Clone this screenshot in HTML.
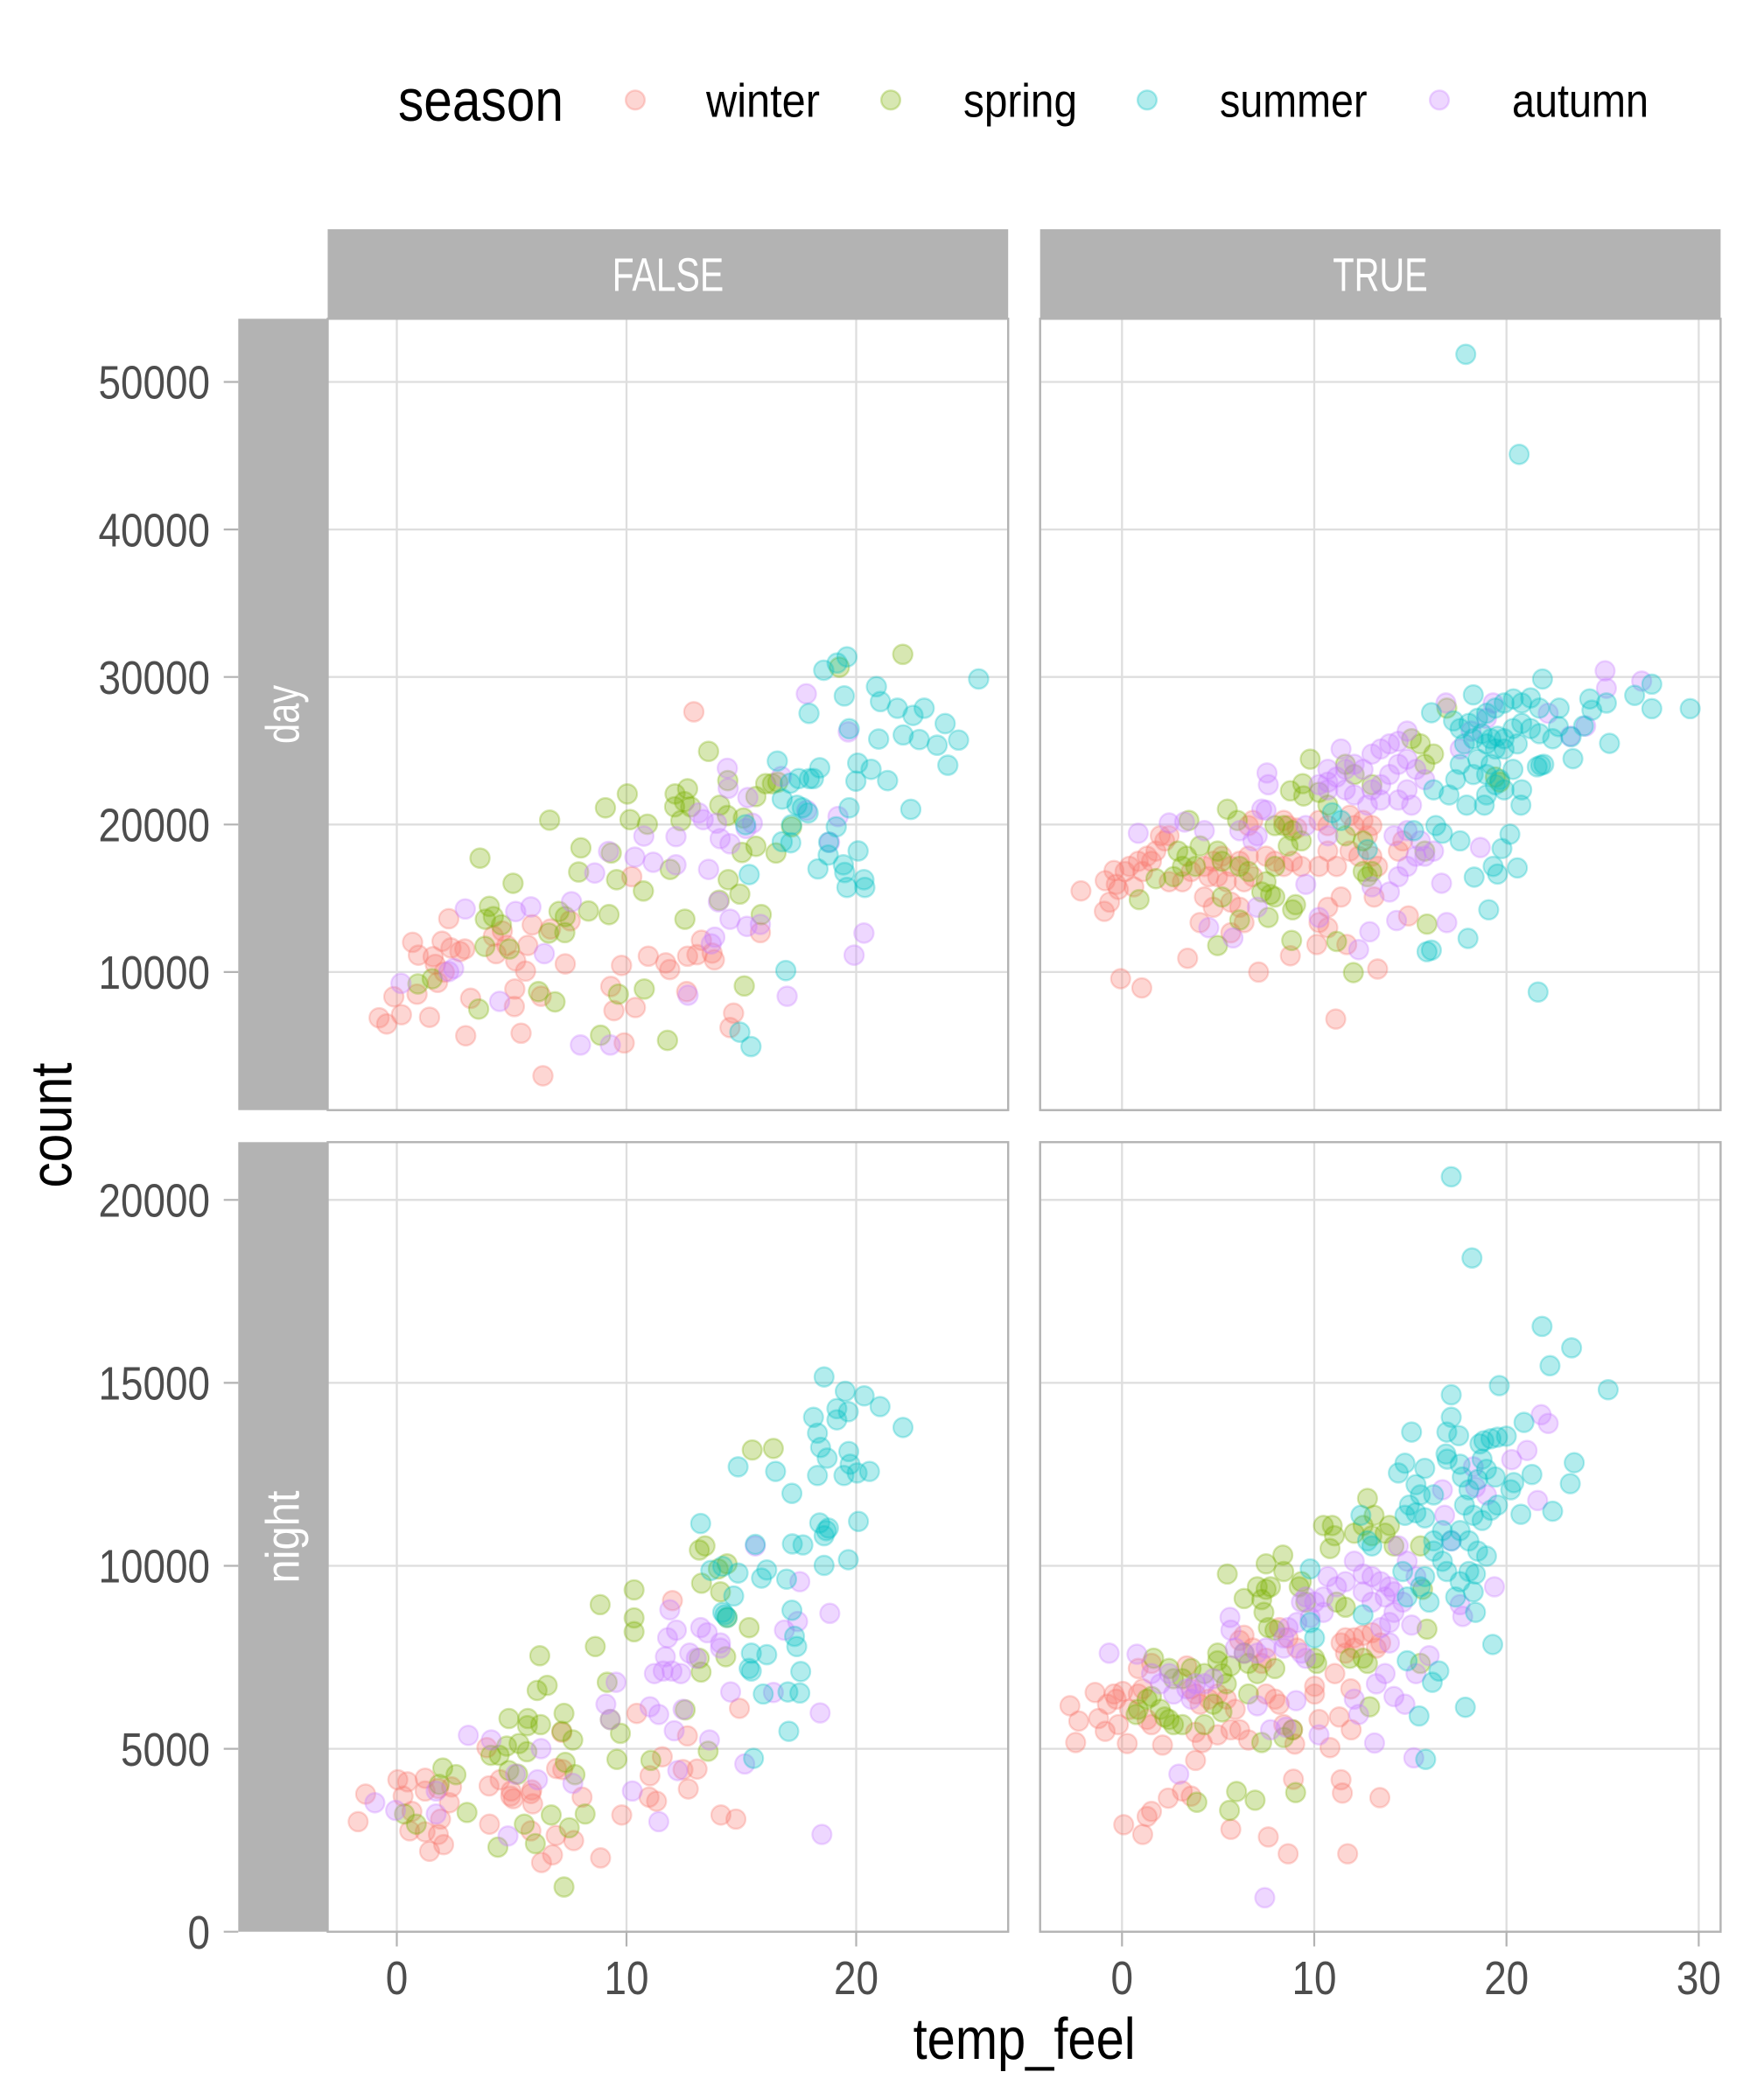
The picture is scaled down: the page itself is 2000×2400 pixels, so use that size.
<!DOCTYPE html>
<html><head><meta charset="utf-8"><style>
html,body{margin:0;padding:0;background:#fff;}
svg{display:block;}
text{font-family:"Liberation Sans Narrow","Liberation Sans",Arial,sans-serif;}
</style></head><body>
<svg width="2000" height="2400" viewBox="0 0 2000 2400" xmlns="http://www.w3.org/2000/svg">
<defs>
<ellipse id="w" cx="0" cy="0" rx="21.8" ry="18.9" fill="#F8766D" fill-opacity=".3" stroke="#F8766D" stroke-opacity=".3" stroke-width="4.3"/>
<ellipse id="g" cx="0" cy="0" rx="21.8" ry="18.9" fill="#7CAE00" fill-opacity=".3" stroke="#7CAE00" stroke-opacity=".3" stroke-width="4.3"/>
<ellipse id="s" cx="0" cy="0" rx="21.8" ry="18.9" fill="#00BFC4" fill-opacity=".3" stroke="#00BFC4" stroke-opacity=".3" stroke-width="4.3"/>
<ellipse id="a" cx="0" cy="0" rx="21.8" ry="18.9" fill="#C77CFF" fill-opacity=".3" stroke="#C77CFF" stroke-opacity=".3" stroke-width="4.3"/>
</defs>
<rect width="2000" height="2400" fill="#fff"/>

<!-- Legend -->
<text x="455" y="138" font-size="68" fill="#000" textLength="189" lengthAdjust="spacingAndGlyphs">season</text>
<g fill-opacity=".3" stroke-opacity=".3" stroke-width="2.4">
<circle cx="726" cy="114.3" r="10.9" fill="#F8766D" stroke="#F8766D"/>
<circle cx="1018" cy="114.3" r="10.9" fill="#7CAE00" stroke="#7CAE00"/>
<circle cx="1311" cy="114.3" r="10.9" fill="#00BFC4" stroke="#00BFC4"/>
<circle cx="1645" cy="114.3" r="10.9" fill="#C77CFF" stroke="#C77CFF"/>
</g>
<g font-size="53.5" fill="#000">
<text x="807" y="133.3" textLength="130" lengthAdjust="spacingAndGlyphs">winter</text>
<text x="1101" y="133.3" textLength="130" lengthAdjust="spacingAndGlyphs">spring</text>
<text x="1394" y="133.3" textLength="168.5" lengthAdjust="spacingAndGlyphs">summer</text>
<text x="1728" y="133.3" textLength="156" lengthAdjust="spacingAndGlyphs">autumn</text>
</g>

<!-- Strips -->
<g fill="#b3b3b3">
<rect x="374.5" y="262" width="777.7" height="102.3"/>
<rect x="1188.7" y="262" width="777.7" height="102.3"/>
<rect x="272.3" y="364.3" width="102.2" height="904.4"/>
<rect x="272.3" y="1305.3" width="102.2" height="902.4"/>
</g>
<g font-size="53.5" fill="#fff" text-anchor="middle">
<text x="763.4" y="332.5" textLength="127.5" lengthAdjust="spacingAndGlyphs">FALSE</text>
<text x="1577.5" y="332.5" textLength="108.5" lengthAdjust="spacingAndGlyphs">TRUE</text>
<text transform="translate(341.5 816.5) rotate(-90)" textLength="67" lengthAdjust="spacingAndGlyphs">day</text>
<text transform="translate(341.5 1756.5) rotate(-90)" textLength="106" lengthAdjust="spacingAndGlyphs">night</text>
</g>

<!-- Panel backgrounds -->
<g fill="#fff">
<rect x="374.5" y="364.3" width="777.7" height="904.4"/>
<rect x="1188.7" y="364.3" width="777.7" height="904.4"/>
<rect x="374.5" y="1305.3" width="777.7" height="902.4"/>
<rect x="1188.7" y="1305.3" width="777.7" height="902.4"/>
</g>

<!-- Grid lines -->
<g stroke="#dedede" stroke-width="2.3">
<path d="M374.5 436.5H1152.2M374.5 605.1H1152.2M374.5 773.7H1152.2M374.5 942.3H1152.2M374.5 1110.9H1152.2"/>
<path d="M1188.7 436.5H1966.4M1188.7 605.1H1966.4M1188.7 773.7H1966.4M1188.7 942.3H1966.4M1188.7 1110.9H1966.4"/>
<path d="M374.5 1371.3H1152.2M374.5 1580.4H1152.2M374.5 1789.5H1152.2M374.5 1998.6H1152.2"/>
<path d="M1188.7 1371.3H1966.4M1188.7 1580.4H1966.4M1188.7 1789.5H1966.4M1188.7 1998.6H1966.4"/>
<path d="M453.5 364.3V1268.7M716 364.3V1268.7M978.5 364.3V1268.7"/>
<path d="M1282.3 364.3V1268.7M1502 364.3V1268.7M1721.7 364.3V1268.7M1941.4 364.3V1268.7"/>
<path d="M453.5 1305.3V2207.7M716 1305.3V2207.7M978.5 1305.3V2207.7"/>
<path d="M1282.3 1305.3V2207.7M1502 1305.3V2207.7M1721.7 1305.3V2207.7M1941.4 1305.3V2207.7"/>
</g>

<!-- TL panel points -->
<g transform="translate(370 360) scale(0.5102 0.5867)">
<use href="#w" x="829" y="773"/><use href="#w" x="690" y="1094"/><use href="#w" x="280" y="1176"/><use href="#w" x="467" y="1188"/><use href="#w" x="552" y="1180"/><use href="#w" x="400" y="1200"/><use href="#w" x="380" y="1210"/><use href="#w" x="508" y="1196"/><use href="#w" x="199" y="1222"/><use href="#w" x="265" y="1220"/><use href="#w" x="212" y="1247"/><use href="#w" x="245" y="1250"/><use href="#w" x="285" y="1233"/><use href="#w" x="316" y="1235"/><use href="#w" x="305" y="1240"/><use href="#w" x="386" y="1244"/><use href="#w" x="410" y="1228"/><use href="#w" x="457" y="1228"/><use href="#w" x="430" y="1258"/><use href="#w" x="452" y="1278"/><use href="#w" x="541" y="1264"/><use href="#w" x="667" y="1267"/><use href="#w" x="727" y="1249"/><use href="#w" x="766" y="1262"/><use href="#w" x="775" y="1275"/><use href="#w" x="815" y="1249"/><use href="#w" x="846" y="1218"/><use href="#w" x="836" y="1246"/><use href="#w" x="870" y="1243"/><use href="#w" x="875" y="1256"/><use href="#w" x="978" y="1203"/><use href="#w" x="250" y="1265"/><use href="#w" x="270" y="1280"/><use href="#w" x="255" y="1300"/><use href="#w" x="157" y="1328"/><use href="#w" x="209" y="1323"/><use href="#w" x="329" y="1331"/><use href="#w" x="428" y="1313"/><use href="#w" x="427" y="1347"/><use href="#w" x="487" y="1327"/><use href="#w" x="124" y="1369"/><use href="#w" x="141" y="1381"/><use href="#w" x="174" y="1363"/><use href="#w" x="237" y="1368"/><use href="#w" x="318" y="1404"/><use href="#w" x="442" y="1399"/><use href="#w" x="643" y="1308"/><use href="#w" x="650" y="1355"/><use href="#w" x="698" y="1349"/><use href="#w" x="813" y="1318"/><use href="#w" x="918" y="1360"/><use href="#w" x="910" y="1388"/><use href="#w" x="673" y="1418"/><use href="#w" x="491" y="1482"/>
<use href="#g" x="1297" y="661"/><use href="#g" x="1155" y="686"/><use href="#g" x="862" y="850"/><use href="#g" x="905" y="907"/><use href="#g" x="990" y="913"/><use href="#g" x="1005" y="913"/><use href="#g" x="1017" y="910"/><use href="#g" x="680" y="933"/><use href="#g" x="631" y="960"/><use href="#g" x="787" y="933"/><use href="#g" x="815" y="923"/><use href="#g" x="808" y="948"/><use href="#g" x="786" y="958"/><use href="#g" x="822" y="958"/><use href="#g" x="506" y="984"/><use href="#g" x="686" y="983"/><use href="#g" x="725" y="992"/><use href="#g" x="800" y="985"/><use href="#g" x="887" y="955"/><use href="#g" x="904" y="975"/><use href="#g" x="940" y="980"/><use href="#g" x="968" y="938"/><use href="#g" x="1048" y="997"/><use href="#g" x="576" y="1038"/><use href="#g" x="644" y="1048"/><use href="#g" x="350" y="1058"/><use href="#g" x="571" y="1085"/><use href="#g" x="656" y="1100"/><use href="#g" x="716" y="1122"/><use href="#g" x="776" y="1080"/><use href="#g" x="937" y="1047"/><use href="#g" x="968" y="1035"/><use href="#g" x="1013" y="1048"/><use href="#g" x="906" y="1100"/><use href="#g" x="932" y="1128"/><use href="#g" x="886" y="1140"/><use href="#g" x="424" y="1107"/><use href="#g" x="371" y="1152"/><use href="#g" x="362" y="1177"/><use href="#g" x="380" y="1172"/><use href="#g" x="398" y="1188"/><use href="#g" x="527" y="1162"/><use href="#g" x="541" y="1172"/><use href="#g" x="593" y="1161"/><use href="#g" x="639" y="1168"/><use href="#g" x="504" y="1204"/><use href="#g" x="540" y="1203"/><use href="#g" x="809" y="1177"/><use href="#g" x="980" y="1168"/><use href="#g" x="361" y="1230"/><use href="#g" x="416" y="1235"/><use href="#g" x="211" y="1303"/><use href="#g" x="243" y="1293"/><use href="#g" x="481" y="1318"/><use href="#g" x="518" y="1338"/><use href="#g" x="347" y="1352"/><use href="#g" x="660" y="1323"/><use href="#g" x="718" y="1313"/><use href="#g" x="942" y="1307"/><use href="#g" x="620" y="1403"/><use href="#g" x="770" y="1413"/>
<use href="#a" x="1081" y="738"/><use href="#a" x="1175" y="812"/><use href="#a" x="904" y="883"/><use href="#a" x="906" y="922"/><use href="#a" x="950" y="940"/><use href="#a" x="1025" y="899"/><use href="#a" x="840" y="970"/><use href="#a" x="850" y="983"/><use href="#a" x="880" y="990"/><use href="#a" x="888" y="1020"/><use href="#a" x="910" y="1030"/><use href="#a" x="946" y="1000"/><use href="#a" x="960" y="990"/><use href="#a" x="717" y="1015"/><use href="#a" x="789" y="1016"/><use href="#a" x="862" y="1080"/><use href="#a" x="638" y="1045"/><use href="#a" x="697" y="1056"/><use href="#a" x="738" y="1066"/><use href="#a" x="789" y="1071"/><use href="#a" x="607" y="1087"/><use href="#a" x="1082" y="965"/><use href="#a" x="1152" y="977"/><use href="#a" x="1133" y="1027"/><use href="#a" x="317" y="1157"/><use href="#a" x="430" y="1162"/><use href="#a" x="464" y="1153"/><use href="#a" x="555" y="1143"/><use href="#a" x="494" y="1244"/><use href="#a" x="291" y="1273"/><use href="#a" x="280" y="1279"/><use href="#a" x="173" y="1302"/><use href="#a" x="394" y="1337"/><use href="#a" x="876" y="1212"/><use href="#a" x="868" y="1225"/><use href="#a" x="910" y="1177"/><use href="#a" x="948" y="1191"/><use href="#a" x="978" y="1187"/><use href="#a" x="1210" y="1204"/><use href="#a" x="1188" y="1247"/><use href="#a" x="816" y="1325"/><use href="#a" x="1038" y="1327"/><use href="#a" x="575" y="1422"/><use href="#a" x="642" y="1422"/><use href="#a" x="884" y="1143"/>
<use href="#s" x="1172" y="666"/><use href="#s" x="1150" y="678"/><use href="#s" x="1120" y="692"/><use href="#s" x="1166" y="742"/><use href="#s" x="1087" y="776"/><use href="#s" x="1177" y="806"/><use href="#s" x="1238" y="724"/><use href="#s" x="1247" y="753"/><use href="#s" x="1285" y="766"/><use href="#s" x="1320" y="780"/><use href="#s" x="1345" y="766"/><use href="#s" x="1392" y="796"/><use href="#s" x="1422" y="828"/><use href="#s" x="1374" y="838"/><use href="#s" x="1398" y="877"/><use href="#s" x="1467" y="709"/><use href="#s" x="1243" y="826"/><use href="#s" x="1298" y="818"/><use href="#s" x="1334" y="827"/><use href="#s" x="1016" y="869"/><use href="#s" x="1196" y="873"/><use href="#s" x="1226" y="885"/><use href="#s" x="1263" y="907"/><use href="#s" x="1192" y="908"/><use href="#s" x="1111" y="882"/><use href="#s" x="1088" y="903"/><use href="#s" x="1064" y="903"/><use href="#s" x="1097" y="903"/><use href="#s" x="1045" y="912"/><use href="#s" x="1027" y="943"/><use href="#s" x="1315" y="963"/><use href="#s" x="1177" y="960"/><use href="#s" x="1148" y="997"/><use href="#s" x="1060" y="955"/><use href="#s" x="1085" y="970"/><use href="#s" x="1072" y="960"/><use href="#s" x="1048" y="993"/><use href="#s" x="1046" y="1028"/><use href="#s" x="1027" y="1026"/><use href="#s" x="1131" y="1027"/><use href="#s" x="1130" y="1052"/><use href="#s" x="1107" y="1079"/><use href="#s" x="1197" y="1044"/><use href="#s" x="1164" y="1071"/><use href="#s" x="1167" y="1086"/><use href="#s" x="1172" y="1115"/><use href="#s" x="1210" y="1100"/><use href="#s" x="1212" y="1115"/><use href="#s" x="953" y="1090"/><use href="#s" x="1035" y="1277"/><use href="#s" x="932" y="1397"/><use href="#s" x="957" y="1425"/><use href="#s" x="945" y="993"/>
</g>

<!-- TR panel points -->
<g transform="translate(1185 360) scale(0.5038 0.5835)">
<use href="#w" x="100" y="1128"/><use href="#w" x="155" y="1108"/><use href="#w" x="175" y="1088"/><use href="#w" x="180" y="1115"/><use href="#w" x="185" y="1125"/><use href="#w" x="200" y="1090"/><use href="#w" x="165" y="1150"/><use href="#w" x="153" y="1168"/><use href="#w" x="210" y="1080"/><use href="#w" x="230" y="1070"/><use href="#w" x="250" y="1060"/><use href="#w" x="270" y="1050"/><use href="#w" x="290" y="1030"/><use href="#w" x="300" y="1020"/><use href="#w" x="280" y="1020"/><use href="#w" x="260" y="1070"/><use href="#w" x="240" y="1090"/><use href="#w" x="220" y="1120"/><use href="#w" x="300" y="1110"/><use href="#w" x="330" y="1110"/><use href="#w" x="350" y="1090"/><use href="#w" x="380" y="1080"/><use href="#w" x="400" y="1070"/><use href="#w" x="420" y="1060"/><use href="#w" x="440" y="1080"/><use href="#w" x="460" y="1070"/><use href="#w" x="480" y="1060"/><use href="#w" x="480" y="1000"/><use href="#w" x="490" y="990"/><use href="#w" x="390" y="1100"/><use href="#w" x="410" y="1100"/><use href="#w" x="430" y="1110"/><use href="#w" x="470" y="1110"/><use href="#w" x="490" y="1100"/><use href="#w" x="380" y="1140"/><use href="#w" x="400" y="1160"/><use href="#w" x="440" y="1150"/><use href="#w" x="460" y="1160"/><use href="#w" x="470" y="1190"/><use href="#w" x="370" y="1190"/><use href="#w" x="440" y="1210"/><use href="#w" x="520" y="1060"/><use href="#w" x="540" y="1070"/><use href="#w" x="560" y="1080"/><use href="#w" x="580" y="1070"/><use href="#w" x="560" y="990"/><use href="#w" x="570" y="1000"/><use href="#w" x="590" y="1005"/><use href="#w" x="600" y="1080"/><use href="#w" x="640" y="1080"/><use href="#w" x="660" y="1050"/><use href="#w" x="680" y="1080"/><use href="#w" x="690" y="1140"/><use href="#w" x="710" y="1050"/><use href="#w" x="730" y="1060"/><use href="#w" x="760" y="1060"/><use href="#w" x="750" y="1020"/><use href="#w" x="760" y="1000"/><use href="#w" x="740" y="990"/><use href="#w" x="710" y="980"/><use href="#w" x="720" y="1000"/><use href="#w" x="640" y="990"/><use href="#w" x="660" y="1000"/><use href="#w" x="660" y="1160"/><use href="#w" x="640" y="1190"/><use href="#w" x="660" y="1200"/><use href="#w" x="635" y="1233"/><use href="#w" x="575" y="1255"/><use href="#w" x="703" y="1233"/><use href="#w" x="773" y="1281"/><use href="#w" x="843" y="1177"/><use href="#w" x="765" y="1140"/><use href="#w" x="773" y="1080"/><use href="#w" x="342" y="1260"/><use href="#w" x="503" y="1287"/><use href="#w" x="190" y="1300"/><use href="#w" x="238" y="1318"/><use href="#w" x="678" y="1379"/><use href="#w" x="820" y="1050"/><use href="#w" x="830" y="1030"/>
<use href="#g" x="620" y="870"/><use href="#g" x="575" y="932"/><use href="#g" x="603" y="918"/><use href="#g" x="605" y="942"/><use href="#g" x="640" y="935"/><use href="#g" x="660" y="960"/><use href="#g" x="432" y="968"/><use href="#g" x="455" y="990"/><use href="#g" x="345" y="990"/><use href="#g" x="370" y="1040"/><use href="#g" x="360" y="1080"/><use href="#g" x="320" y="1050"/><use href="#g" x="340" y="1060"/><use href="#g" x="410" y="1050"/><use href="#g" x="420" y="1070"/><use href="#g" x="540" y="1000"/><use href="#g" x="560" y="1000"/><use href="#g" x="580" y="1010"/><use href="#g" x="600" y="1030"/><use href="#g" x="570" y="1040"/><use href="#g" x="700" y="880"/><use href="#g" x="720" y="900"/><use href="#g" x="760" y="920"/><use href="#g" x="850" y="830"/><use href="#g" x="870" y="840"/><use href="#g" x="900" y="860"/><use href="#g" x="930" y="770"/><use href="#g" x="880" y="880"/><use href="#g" x="1040" y="905"/><use href="#g" x="1050" y="915"/><use href="#g" x="270" y="1104"/><use href="#g" x="310" y="1100"/><use href="#g" x="330" y="1080"/><use href="#g" x="232" y="1145"/><use href="#g" x="460" y="1080"/><use href="#g" x="480" y="1090"/><use href="#g" x="520" y="1110"/><use href="#g" x="540" y="1080"/><use href="#g" x="510" y="1130"/><use href="#g" x="420" y="1140"/><use href="#g" x="530" y="1135"/><use href="#g" x="540" y="1140"/><use href="#g" x="580" y="1165"/><use href="#g" x="587" y="1155"/><use href="#g" x="410" y="1235"/><use href="#g" x="460" y="1185"/><use href="#g" x="525" y="1180"/><use href="#g" x="578" y="1225"/><use href="#g" x="680" y="1227"/><use href="#g" x="718" y="1288"/><use href="#g" x="740" y="1090"/><use href="#g" x="760" y="1090"/><use href="#g" x="750" y="1100"/><use href="#g" x="885" y="1193"/><use href="#g" x="700" y="1020"/><use href="#g" x="740" y="1030"/><use href="#g" x="880" y="1050"/>
<use href="#a" x="1289" y="697"/><use href="#a" x="1292" y="731"/><use href="#a" x="1372" y="717"/><use href="#a" x="1245" y="805"/><use href="#a" x="1210" y="825"/><use href="#a" x="1160" y="780"/><use href="#a" x="928" y="760"/><use href="#a" x="1035" y="760"/><use href="#a" x="1020" y="790"/><use href="#a" x="985" y="815"/><use href="#a" x="960" y="850"/><use href="#a" x="690" y="850"/><use href="#a" x="840" y="815"/><use href="#a" x="820" y="835"/><use href="#a" x="800" y="840"/><use href="#a" x="780" y="850"/><use href="#a" x="760" y="860"/><use href="#a" x="720" y="880"/><use href="#a" x="740" y="890"/><use href="#a" x="700" y="890"/><use href="#a" x="680" y="905"/><use href="#a" x="660" y="915"/><use href="#a" x="640" y="920"/><use href="#a" x="660" y="930"/><use href="#a" x="700" y="930"/><use href="#a" x="720" y="940"/><use href="#a" x="760" y="930"/><use href="#a" x="780" y="920"/><use href="#a" x="800" y="900"/><use href="#a" x="820" y="880"/><use href="#a" x="840" y="870"/><use href="#a" x="860" y="890"/><use href="#a" x="880" y="910"/><use href="#a" x="840" y="930"/><use href="#a" x="820" y="950"/><use href="#a" x="850" y="960"/><use href="#a" x="780" y="950"/><use href="#a" x="750" y="960"/><use href="#a" x="522" y="897"/><use href="#a" x="525" y="920"/><use href="#a" x="660" y="890"/><use href="#a" x="510" y="968"/><use href="#a" x="520" y="970"/><use href="#a" x="230" y="1015"/><use href="#a" x="300" y="995"/><use href="#a" x="335" y="993"/><use href="#a" x="380" y="1010"/><use href="#a" x="460" y="1010"/><use href="#a" x="500" y="1020"/><use href="#a" x="490" y="1030"/><use href="#a" x="660" y="1020"/><use href="#a" x="610" y="1000"/><use href="#a" x="810" y="1020"/><use href="#a" x="840" y="1010"/><use href="#a" x="870" y="1030"/><use href="#a" x="860" y="1060"/><use href="#a" x="840" y="1080"/><use href="#a" x="820" y="1100"/><use href="#a" x="800" y="1130"/><use href="#a" x="760" y="1120"/><use href="#a" x="1006" y="1043"/><use href="#a" x="918" y="1113"/><use href="#a" x="930" y="1190"/><use href="#a" x="816" y="1186"/><use href="#a" x="755" y="1208"/><use href="#a" x="730" y="1243"/><use href="#a" x="610" y="1115"/><use href="#a" x="640" y="1180"/><use href="#a" x="390" y="1200"/><use href="#a" x="445" y="1220"/><use href="#a" x="500" y="1160"/><use href="#a" x="900" y="1050"/><use href="#a" x="880" y="1060"/>
<use href="#s" x="973" y="77"/><use href="#s" x="1094" y="273"/><use href="#s" x="1147" y="713"/><use href="#s" x="990" y="744"/><use href="#s" x="1081" y="752"/><use href="#s" x="1292" y="760"/><use href="#s" x="1254" y="752"/><use href="#s" x="1259" y="774"/><use href="#s" x="1356" y="745"/><use href="#s" x="1395" y="723"/><use href="#s" x="1395" y="771"/><use href="#s" x="1482" y="771"/><use href="#s" x="1299" y="839"/><use href="#s" x="1216" y="869"/><use href="#s" x="1143" y="882"/><use href="#s" x="1135" y="885"/><use href="#s" x="1150" y="880"/><use href="#s" x="1185" y="770"/><use href="#s" x="1183" y="806"/><use href="#s" x="1212" y="826"/><use href="#s" x="1240" y="805"/><use href="#s" x="895" y="779"/><use href="#s" x="945" y="795"/><use href="#s" x="960" y="810"/><use href="#s" x="980" y="800"/><use href="#s" x="1000" y="790"/><use href="#s" x="1020" y="780"/><use href="#s" x="1040" y="770"/><use href="#s" x="1060" y="760"/><use href="#s" x="1100" y="760"/><use href="#s" x="1120" y="750"/><use href="#s" x="1140" y="770"/><use href="#s" x="1010" y="820"/><use href="#s" x="1030" y="830"/><use href="#s" x="1045" y="825"/><use href="#s" x="1060" y="830"/><use href="#s" x="1080" y="810"/><use href="#s" x="1100" y="800"/><use href="#s" x="1120" y="810"/><use href="#s" x="1140" y="820"/><use href="#s" x="1170" y="830"/><use href="#s" x="1090" y="840"/><use href="#s" x="1060" y="850"/><use href="#s" x="1040" y="850"/><use href="#s" x="1020" y="840"/><use href="#s" x="990" y="830"/><use href="#s" x="970" y="840"/><use href="#s" x="960" y="880"/><use href="#s" x="990" y="900"/><use href="#s" x="1020" y="900"/><use href="#s" x="1050" y="910"/><use href="#s" x="1080" y="890"/><use href="#s" x="1100" y="930"/><use href="#s" x="1098" y="960"/><use href="#s" x="1060" y="930"/><use href="#s" x="1040" y="920"/><use href="#s" x="1020" y="940"/><use href="#s" x="1015" y="960"/><use href="#s" x="975" y="960"/><use href="#s" x="935" y="940"/><use href="#s" x="950" y="910"/><use href="#s" x="1030" y="880"/><use href="#s" x="1000" y="870"/><use href="#s" x="900" y="930"/><use href="#s" x="905" y="1000"/><use href="#s" x="920" y="1015"/><use href="#s" x="855" y="1010"/><use href="#s" x="960" y="1030"/><use href="#s" x="1073" y="1017"/><use href="#s" x="1055" y="1045"/><use href="#s" x="1035" y="1080"/><use href="#s" x="1090" y="1083"/><use href="#s" x="1045" y="1095"/><use href="#s" x="992" y="1101"/><use href="#s" x="1025" y="1165"/><use href="#s" x="978" y="1221"/><use href="#s" x="895" y="1244"/><use href="#s" x="885" y="1247"/><use href="#s" x="1137" y="1326"/><use href="#s" x="750" y="1047"/><use href="#s" x="690" y="990"/><use href="#s" x="670" y="975"/>
</g>

<!-- BL panel points -->
<g transform="translate(370 1300) scale(0.5038 0.5835)">
<use href="#w" x="791" y="907"/><use href="#w" x="943" y="1118"/><use href="#w" x="710" y="1128"/><use href="#w" x="825" y="1172"/><use href="#w" x="768" y="1213"/><use href="#w" x="740" y="1250"/><use href="#w" x="815" y="1238"/><use href="#w" x="847" y="1237"/><use href="#w" x="827" y="1276"/><use href="#w" x="738" y="1292"/><use href="#w" x="755" y="1300"/><use href="#w" x="370" y="1195"/><use href="#w" x="540" y="1165"/><use href="#w" x="542" y="1238"/><use href="#w" x="528" y="1236"/><use href="#w" x="95" y="1286"/><use href="#w" x="78" y="1340"/><use href="#w" x="168" y="1258"/><use href="#w" x="190" y="1262"/><use href="#w" x="230" y="1255"/><use href="#w" x="230" y="1280"/><use href="#w" x="260" y="1275"/><use href="#w" x="290" y="1272"/><use href="#w" x="180" y="1290"/><use href="#w" x="285" y="1303"/><use href="#w" x="265" y="1335"/><use href="#w" x="200" y="1320"/><use href="#w" x="195" y="1358"/><use href="#w" x="230" y="1360"/><use href="#w" x="260" y="1365"/><use href="#w" x="272" y="1385"/><use href="#w" x="240" y="1398"/><use href="#w" x="375" y="1270"/><use href="#w" x="400" y="1258"/><use href="#w" x="424" y="1290"/><use href="#w" x="425" y="1280"/><use href="#w" x="430" y="1295"/><use href="#w" x="472" y="1278"/><use href="#w" x="474" y="1305"/><use href="#w" x="470" y="1285"/><use href="#w" x="376" y="1345"/><use href="#w" x="586" y="1292"/><use href="#w" x="470" y="1358"/><use href="#w" x="527" y="1367"/><use href="#w" x="567" y="1377"/><use href="#w" x="519" y="1405"/><use href="#w" x="494" y="1420"/><use href="#w" x="628" y="1411"/><use href="#w" x="676" y="1327"/><use href="#w" x="901" y="1327"/><use href="#w" x="935" y="1335"/>
<use href="#g" x="972" y="612"/><use href="#g" x="1020" y="609"/><use href="#g" x="852" y="808"/><use href="#g" x="865" y="800"/><use href="#g" x="857" y="873"/><use href="#g" x="895" y="845"/><use href="#g" x="915" y="835"/><use href="#g" x="900" y="890"/><use href="#g" x="915" y="940"/><use href="#g" x="965" y="960"/><use href="#g" x="912" y="1017"/><use href="#g" x="856" y="1047"/><use href="#g" x="852" y="1020"/><use href="#g" x="704" y="886"/><use href="#g" x="627" y="915"/><use href="#g" x="704" y="941"/><use href="#g" x="704" y="968"/><use href="#g" x="616" y="997"/><use href="#g" x="490" y="1015"/><use href="#g" x="643" y="1067"/><use href="#g" x="507" y="1073"/><use href="#g" x="484" y="1083"/><use href="#g" x="420" y="1138"/><use href="#g" x="463" y="1138"/><use href="#g" x="462" y="1152"/><use href="#g" x="492" y="1150"/><use href="#g" x="545" y="1128"/><use href="#g" x="540" y="1163"/><use href="#g" x="565" y="1180"/><use href="#g" x="650" y="1140"/><use href="#g" x="673" y="1167"/><use href="#g" x="820" y="1121"/><use href="#g" x="415" y="1192"/><use href="#g" x="443" y="1187"/><use href="#g" x="461" y="1203"/><use href="#g" x="379" y="1210"/><use href="#g" x="398" y="1210"/><use href="#g" x="420" y="1240"/><use href="#g" x="440" y="1247"/><use href="#g" x="270" y="1235"/><use href="#g" x="300" y="1248"/><use href="#g" x="262" y="1267"/><use href="#g" x="548" y="1224"/><use href="#g" x="570" y="1248"/><use href="#g" x="665" y="1218"/><use href="#g" x="742" y="1220"/><use href="#g" x="872" y="1202"/><use href="#g" x="325" y="1322"/><use href="#g" x="516" y="1327"/><use href="#g" x="593" y="1325"/><use href="#g" x="455" y="1345"/><use href="#g" x="557" y="1352"/><use href="#g" x="480" y="1383"/><use href="#g" x="183" y="1325"/><use href="#g" x="210" y="1345"/><use href="#g" x="395" y="1390"/><use href="#g" x="545" y="1468"/>
<use href="#a" x="979" y="800"/><use href="#a" x="1080" y="870"/><use href="#a" x="1148" y="932"/><use href="#a" x="1075" y="948"/><use href="#a" x="1045" y="965"/><use href="#a" x="1126" y="1127"/><use href="#a" x="785" y="925"/><use href="#a" x="800" y="965"/><use href="#a" x="780" y="980"/><use href="#a" x="855" y="960"/><use href="#a" x="870" y="970"/><use href="#a" x="900" y="990"/><use href="#a" x="830" y="1010"/><use href="#a" x="845" y="1020"/><use href="#a" x="775" y="1017"/><use href="#a" x="750" y="1050"/><use href="#a" x="770" y="1045"/><use href="#a" x="790" y="1045"/><use href="#a" x="810" y="1050"/><use href="#a" x="663" y="1067"/><use href="#a" x="923" y="1086"/><use href="#a" x="1020" y="1087"/><use href="#a" x="640" y="1110"/><use href="#a" x="650" y="1140"/><use href="#a" x="740" y="1115"/><use href="#a" x="760" y="1130"/><use href="#a" x="795" y="1162"/><use href="#a" x="815" y="1120"/><use href="#a" x="875" y="1180"/><use href="#a" x="955" y="1227"/><use href="#a" x="328" y="1171"/><use href="#a" x="380" y="1180"/><use href="#a" x="493" y="1197"/><use href="#a" x="485" y="1258"/><use href="#a" x="435" y="1247"/><use href="#a" x="565" y="1265"/><use href="#a" x="116" y="1303"/><use href="#a" x="163" y="1318"/><use href="#a" x="255" y="1280"/><use href="#a" x="255" y="1325"/><use href="#a" x="700" y="1280"/><use href="#a" x="803" y="1240"/><use href="#a" x="760" y="1340"/><use href="#a" x="418" y="1368"/><use href="#a" x="1130" y="1365"/><use href="#a" x="900" y="1000"/>
<use href="#s" x="1135" y="469"/><use href="#s" x="1183" y="497"/><use href="#s" x="1226" y="506"/><use href="#s" x="1262" y="527"/><use href="#s" x="1164" y="531"/><use href="#s" x="1190" y="537"/><use href="#s" x="1164" y="553"/><use href="#s" x="1111" y="548"/><use href="#s" x="1120" y="579"/><use href="#s" x="1314" y="568"/><use href="#s" x="1127" y="607"/><use href="#s" x="1142" y="628"/><use href="#s" x="1191" y="615"/><use href="#s" x="1194" y="640"/><use href="#s" x="1180" y="662"/><use href="#s" x="1210" y="657"/><use href="#s" x="1238" y="654"/><use href="#s" x="1120" y="662"/><use href="#s" x="940" y="645"/><use href="#s" x="1025" y="654"/><use href="#s" x="1062" y="697"/><use href="#s" x="855" y="756"/><use href="#s" x="1125" y="755"/><use href="#s" x="1145" y="765"/><use href="#s" x="1135" y="780"/><use href="#s" x="1140" y="770"/><use href="#s" x="1213" y="752"/><use href="#s" x="979" y="797"/><use href="#s" x="1063" y="796"/><use href="#s" x="1087" y="798"/><use href="#s" x="1135" y="838"/><use href="#s" x="1190" y="827"/><use href="#s" x="878" y="848"/><use href="#s" x="905" y="840"/><use href="#s" x="940" y="853"/><use href="#s" x="1005" y="847"/><use href="#s" x="993" y="863"/><use href="#s" x="1050" y="865"/><use href="#s" x="930" y="898"/><use href="#s" x="905" y="930"/><use href="#s" x="915" y="940"/><use href="#s" x="910" y="935"/><use href="#s" x="1062" y="926"/><use href="#s" x="1073" y="997"/><use href="#s" x="1068" y="977"/><use href="#s" x="1005" y="1013"/><use href="#s" x="970" y="1010"/><use href="#s" x="965" y="1040"/><use href="#s" x="970" y="1045"/><use href="#s" x="1082" y="1046"/><use href="#s" x="997" y="1090"/><use href="#s" x="1053" y="1086"/><use href="#s" x="1080" y="1088"/><use href="#s" x="1055" y="1163"/><use href="#s" x="975" y="1216"/>
</g>

<!-- BR panel points -->
<g transform="translate(1185 1300) scale(0.5038 0.5835)">
<use href="#w" x="75" y="1113"/><use href="#w" x="95" y="1143"/><use href="#w" x="132" y="1087"/><use href="#w" x="140" y="1138"/><use href="#w" x="155" y="1163"/><use href="#w" x="160" y="1110"/><use href="#w" x="175" y="1090"/><use href="#w" x="180" y="1100"/><use href="#w" x="185" y="1150"/><use href="#w" x="195" y="1085"/><use href="#w" x="205" y="1187"/><use href="#w" x="210" y="1120"/><use href="#w" x="230" y="1090"/><use href="#w" x="240" y="1080"/><use href="#w" x="250" y="1140"/><use href="#w" x="260" y="1150"/><use href="#w" x="88" y="1185"/><use href="#w" x="230" y="1040"/><use href="#w" x="260" y="1030"/><use href="#w" x="340" y="1035"/><use href="#w" x="350" y="1080"/><use href="#w" x="360" y="1090"/><use href="#w" x="370" y="1110"/><use href="#w" x="390" y="1100"/><use href="#w" x="410" y="1090"/><use href="#w" x="430" y="1100"/><use href="#w" x="450" y="1120"/><use href="#w" x="360" y="1165"/><use href="#w" x="375" y="1185"/><use href="#w" x="410" y="1170"/><use href="#w" x="440" y="1160"/><use href="#w" x="460" y="1160"/><use href="#w" x="480" y="1180"/><use href="#w" x="285" y="1190"/><use href="#w" x="360" y="1220"/><use href="#w" x="460" y="985"/><use href="#w" x="470" y="975"/><use href="#w" x="490" y="1000"/><use href="#w" x="510" y="1030"/><use href="#w" x="520" y="1020"/><use href="#w" x="540" y="1100"/><use href="#w" x="550" y="1110"/><use href="#w" x="520" y="1090"/><use href="#w" x="550" y="960"/><use href="#w" x="570" y="980"/><use href="#w" x="590" y="1000"/><use href="#w" x="560" y="1150"/><use href="#w" x="580" y="1160"/><use href="#w" x="585" y="1188"/><use href="#w" x="630" y="1075"/><use href="#w" x="630" y="1090"/><use href="#w" x="640" y="1140"/><use href="#w" x="676" y="1050"/><use href="#w" x="690" y="990"/><use href="#w" x="700" y="980"/><use href="#w" x="720" y="980"/><use href="#w" x="740" y="975"/><use href="#w" x="760" y="970"/><use href="#w" x="720" y="1000"/><use href="#w" x="700" y="1010"/><use href="#w" x="770" y="1000"/><use href="#w" x="780" y="990"/><use href="#w" x="712" y="1080"/><use href="#w" x="686" y="1135"/><use href="#w" x="713" y="1160"/><use href="#w" x="665" y="1195"/><use href="#w" x="582" y="1257"/><use href="#w" x="690" y="1258"/><use href="#w" x="693" y="1284"/><use href="#w" x="778" y="1293"/><use href="#w" x="298" y="1294"/><use href="#w" x="260" y="1320"/><use href="#w" x="250" y="1330"/><use href="#w" x="197" y="1346"/><use href="#w" x="240" y="1365"/><use href="#w" x="440" y="1355"/><use href="#w" x="525" y="1370"/><use href="#w" x="570" y="1403"/><use href="#w" x="705" y="1403"/><use href="#w" x="330" y="1280"/><use href="#w" x="350" y="1290"/>
<use href="#g" x="750" y="707"/><use href="#g" x="765" y="740"/><use href="#g" x="740" y="760"/><use href="#g" x="720" y="775"/><use href="#g" x="760" y="780"/><use href="#g" x="800" y="760"/><use href="#g" x="790" y="775"/><use href="#g" x="810" y="800"/><use href="#g" x="650" y="760"/><use href="#g" x="675" y="780"/><use href="#g" x="665" y="805"/><use href="#g" x="670" y="760"/><use href="#g" x="558" y="818"/><use href="#g" x="520" y="835"/><use href="#g" x="560" y="850"/><use href="#g" x="432" y="855"/><use href="#g" x="470" y="903"/><use href="#g" x="500" y="880"/><use href="#g" x="510" y="905"/><use href="#g" x="520" y="885"/><use href="#g" x="530" y="880"/><use href="#g" x="515" y="930"/><use href="#g" x="525" y="960"/><use href="#g" x="540" y="965"/><use href="#g" x="600" y="870"/><use href="#g" x="610" y="910"/><use href="#g" x="595" y="880"/><use href="#g" x="680" y="910"/><use href="#g" x="700" y="920"/><use href="#g" x="870" y="800"/><use href="#g" x="875" y="885"/><use href="#g" x="885" y="963"/><use href="#g" x="870" y="1030"/><use href="#g" x="410" y="1010"/><use href="#g" x="410" y="1025"/><use href="#g" x="440" y="1035"/><use href="#g" x="470" y="1010"/><use href="#g" x="480" y="1030"/><use href="#g" x="500" y="1050"/><use href="#g" x="540" y="1040"/><use href="#g" x="480" y="1090"/><use href="#g" x="265" y="1020"/><use href="#g" x="300" y="1040"/><use href="#g" x="310" y="1060"/><use href="#g" x="330" y="1060"/><use href="#g" x="350" y="1040"/><use href="#g" x="380" y="1050"/><use href="#g" x="420" y="1050"/><use href="#g" x="430" y="1070"/><use href="#g" x="260" y="1095"/><use href="#g" x="280" y="1120"/><use href="#g" x="290" y="1135"/><use href="#g" x="300" y="1140"/><use href="#g" x="310" y="1150"/><use href="#g" x="330" y="1150"/><use href="#g" x="380" y="1150"/><use href="#g" x="420" y="1125"/><use href="#g" x="400" y="1110"/><use href="#g" x="230" y="1120"/><use href="#g" x="225" y="1130"/><use href="#g" x="250" y="1100"/><use href="#g" x="510" y="1185"/><use href="#g" x="580" y="1160"/><use href="#g" x="560" y="1175"/><use href="#g" x="630" y="1020"/><use href="#g" x="635" y="1030"/><use href="#g" x="740" y="1020"/><use href="#g" x="750" y="1030"/><use href="#g" x="710" y="1020"/><use href="#g" x="755" y="1115"/><use href="#g" x="453" y="1281"/><use href="#g" x="495" y="1298"/><use href="#g" x="587" y="1283"/><use href="#g" x="437" y="1318"/><use href="#g" x="363" y="1302"/>
<use href="#a" x="1144" y="543"/><use href="#a" x="1160" y="560"/><use href="#a" x="1077" y="631"/><use href="#a" x="1112" y="613"/><use href="#a" x="1136" y="711"/><use href="#a" x="990" y="645"/><use href="#a" x="995" y="685"/><use href="#a" x="1020" y="700"/><use href="#a" x="920" y="690"/><use href="#a" x="925" y="740"/><use href="#a" x="940" y="790"/><use href="#a" x="720" y="830"/><use href="#a" x="740" y="855"/><use href="#a" x="760" y="860"/><use href="#a" x="780" y="870"/><use href="#a" x="800" y="880"/><use href="#a" x="790" y="900"/><use href="#a" x="810" y="890"/><use href="#a" x="830" y="910"/><use href="#a" x="810" y="930"/><use href="#a" x="800" y="950"/><use href="#a" x="780" y="960"/><use href="#a" x="760" y="910"/><use href="#a" x="740" y="890"/><use href="#a" x="700" y="870"/><use href="#a" x="680" y="880"/><use href="#a" x="660" y="860"/><use href="#a" x="650" y="900"/><use href="#a" x="630" y="910"/><use href="#a" x="610" y="900"/><use href="#a" x="600" y="910"/><use href="#a" x="650" y="930"/><use href="#a" x="620" y="940"/><use href="#a" x="590" y="950"/><use href="#a" x="570" y="960"/><use href="#a" x="560" y="980"/><use href="#a" x="820" y="800"/><use href="#a" x="840" y="830"/><use href="#a" x="860" y="860"/><use href="#a" x="1038" y="880"/><use href="#a" x="966" y="938"/><use href="#a" x="960" y="915"/><use href="#a" x="438" y="940"/><use href="#a" x="440" y="965"/><use href="#a" x="450" y="1000"/><use href="#a" x="470" y="1010"/><use href="#a" x="500" y="1010"/><use href="#a" x="520" y="1000"/><use href="#a" x="560" y="1000"/><use href="#a" x="600" y="1010"/><use href="#a" x="610" y="1020"/><use href="#a" x="800" y="990"/><use href="#a" x="850" y="955"/><use href="#a" x="860" y="1050"/><use href="#a" x="890" y="1015"/><use href="#a" x="790" y="1050"/><use href="#a" x="770" y="1070"/><use href="#a" x="810" y="1095"/><use href="#a" x="835" y="1110"/><use href="#a" x="720" y="1100"/><use href="#a" x="730" y="1130"/><use href="#a" x="766" y="1186"/><use href="#a" x="855" y="1215"/><use href="#a" x="164" y="1010"/><use href="#a" x="227" y="1012"/><use href="#a" x="260" y="1050"/><use href="#a" x="300" y="1050"/><use href="#a" x="280" y="1070"/><use href="#a" x="310" y="1090"/><use href="#a" x="340" y="1080"/><use href="#a" x="360" y="1070"/><use href="#a" x="380" y="1070"/><use href="#a" x="400" y="1060"/><use href="#a" x="350" y="1100"/><use href="#a" x="588" y="1103"/><use href="#a" x="500" y="1113"/><use href="#a" x="530" y="1160"/><use href="#a" x="565" y="1155"/><use href="#a" x="640" y="1170"/><use href="#a" x="322" y="1247"/><use href="#a" x="517" y="1489"/>
<use href="#s" x="940" y="77"/><use href="#s" x="987" y="236"/><use href="#s" x="1146" y="370"/><use href="#s" x="1213" y="412"/><use href="#s" x="1164" y="447"/><use href="#s" x="1296" y="494"/><use href="#s" x="1049" y="486"/><use href="#s" x="940" y="504"/><use href="#s" x="940" y="548"/><use href="#s" x="930" y="577"/><use href="#s" x="957" y="584"/><use href="#s" x="850" y="577"/><use href="#s" x="1014" y="594"/><use href="#s" x="1030" y="590"/><use href="#s" x="1045" y="587"/><use href="#s" x="1065" y="585"/><use href="#s" x="1105" y="558"/><use href="#s" x="1005" y="600"/><use href="#s" x="1010" y="630"/><use href="#s" x="1040" y="665"/><use href="#s" x="1075" y="690"/><use href="#s" x="1082" y="676"/><use href="#s" x="1123" y="660"/><use href="#s" x="1219" y="637"/><use href="#s" x="1210" y="678"/><use href="#s" x="1170" y="732"/><use href="#s" x="1098" y="738"/><use href="#s" x="1045" y="720"/><use href="#s" x="1030" y="730"/><use href="#s" x="928" y="620"/><use href="#s" x="931" y="630"/><use href="#s" x="960" y="640"/><use href="#s" x="965" y="665"/><use href="#s" x="980" y="690"/><use href="#s" x="1000" y="670"/><use href="#s" x="1020" y="650"/><use href="#s" x="970" y="720"/><use href="#s" x="990" y="740"/><use href="#s" x="1010" y="750"/><use href="#s" x="820" y="657"/><use href="#s" x="835" y="638"/><use href="#s" x="880" y="648"/><use href="#s" x="860" y="680"/><use href="#s" x="870" y="700"/><use href="#s" x="900" y="700"/><use href="#s" x="845" y="720"/><use href="#s" x="835" y="740"/><use href="#s" x="880" y="745"/><use href="#s" x="860" y="735"/><use href="#s" x="735" y="740"/><use href="#s" x="750" y="790"/><use href="#s" x="760" y="800"/><use href="#s" x="920" y="770"/><use href="#s" x="900" y="790"/><use href="#s" x="940" y="790"/><use href="#s" x="960" y="770"/><use href="#s" x="980" y="790"/><use href="#s" x="1000" y="810"/><use href="#s" x="1020" y="820"/><use href="#s" x="995" y="855"/><use href="#s" x="980" y="850"/><use href="#s" x="960" y="870"/><use href="#s" x="990" y="890"/><use href="#s" x="950" y="900"/><use href="#s" x="995" y="930"/><use href="#s" x="890" y="910"/><use href="#s" x="870" y="880"/><use href="#s" x="880" y="860"/><use href="#s" x="840" y="900"/><use href="#s" x="830" y="850"/><use href="#s" x="900" y="810"/><use href="#s" x="920" y="830"/><use href="#s" x="930" y="850"/><use href="#s" x="620" y="845"/><use href="#s" x="630" y="980"/><use href="#s" x="620" y="950"/><use href="#s" x="740" y="935"/><use href="#s" x="840" y="1025"/><use href="#s" x="912" y="1045"/><use href="#s" x="897" y="1067"/><use href="#s" x="867" y="1133"/><use href="#s" x="972" y="1116"/><use href="#s" x="882" y="1218"/><use href="#s" x="1034" y="993"/>
</g>

<!-- Panel borders -->
<g fill="none" stroke="#b3b3b3" stroke-width="2.4">
<rect x="374.5" y="364.3" width="777.7" height="904.4"/>
<rect x="1188.7" y="364.3" width="777.7" height="904.4"/>
<rect x="374.5" y="1305.3" width="777.7" height="902.4"/>
<rect x="1188.7" y="1305.3" width="777.7" height="902.4"/>
</g>

<!-- Axis ticks -->
<g stroke="#b3b3b3" stroke-width="2.2">
<path d="M255.7 436.5H272.3M255.7 605.1H272.3M255.7 773.7H272.3M255.7 942.3H272.3M255.7 1110.9H272.3"/>
<path d="M255.7 1371.3H272.3M255.7 1580.4H272.3M255.7 1789.5H272.3M255.7 1998.6H272.3M255.7 2207.7H272.3"/>
<path d="M453.5 2207.7V2224.5M716 2207.7V2224.5M978.5 2207.7V2224.5"/>
<path d="M1282.3 2207.7V2224.5M1502 2207.7V2224.5M1721.7 2207.7V2224.5M1941.4 2207.7V2224.5"/>
</g>

<!-- Y tick labels -->
<g font-size="53.5" fill="#4d4d4d" text-anchor="end">
<text x="240" y="455.7" textLength="127.5" lengthAdjust="spacingAndGlyphs">50000</text>
<text x="240" y="624.3" textLength="127.5" lengthAdjust="spacingAndGlyphs">40000</text>
<text x="240" y="792.9" textLength="127.5" lengthAdjust="spacingAndGlyphs">30000</text>
<text x="240" y="961.5" textLength="127.5" lengthAdjust="spacingAndGlyphs">20000</text>
<text x="240" y="1130.1" textLength="127.5" lengthAdjust="spacingAndGlyphs">10000</text>
<text x="240" y="1390.5" textLength="127.5" lengthAdjust="spacingAndGlyphs">20000</text>
<text x="240" y="1599.6" textLength="127.5" lengthAdjust="spacingAndGlyphs">15000</text>
<text x="240" y="1808.7" textLength="127.5" lengthAdjust="spacingAndGlyphs">10000</text>
<text x="240" y="2017.8" textLength="102" lengthAdjust="spacingAndGlyphs">5000</text>
<text x="240" y="2226.9" textLength="25.5" lengthAdjust="spacingAndGlyphs">0</text>
</g>

<!-- X tick labels -->
<g font-size="53.5" fill="#4d4d4d" text-anchor="middle">
<text x="453.5" y="2279" textLength="25.5" lengthAdjust="spacingAndGlyphs">0</text>
<text x="716" y="2279" textLength="51" lengthAdjust="spacingAndGlyphs">10</text>
<text x="978.5" y="2279" textLength="51" lengthAdjust="spacingAndGlyphs">20</text>
<text x="1282.3" y="2279" textLength="25.5" lengthAdjust="spacingAndGlyphs">0</text>
<text x="1502" y="2279" textLength="51" lengthAdjust="spacingAndGlyphs">10</text>
<text x="1721.7" y="2279" textLength="51" lengthAdjust="spacingAndGlyphs">20</text>
<text x="1941.4" y="2279" textLength="51" lengthAdjust="spacingAndGlyphs">30</text>
</g>

<!-- Axis titles -->
<text x="1170.6" y="2353" font-size="67" fill="#000" text-anchor="middle" textLength="254" lengthAdjust="spacingAndGlyphs">temp_feel</text>
<text transform="translate(81.7 1286) rotate(-90)" font-size="67" fill="#000" text-anchor="middle" textLength="143" lengthAdjust="spacingAndGlyphs">count</text>
</svg>
</body></html>
